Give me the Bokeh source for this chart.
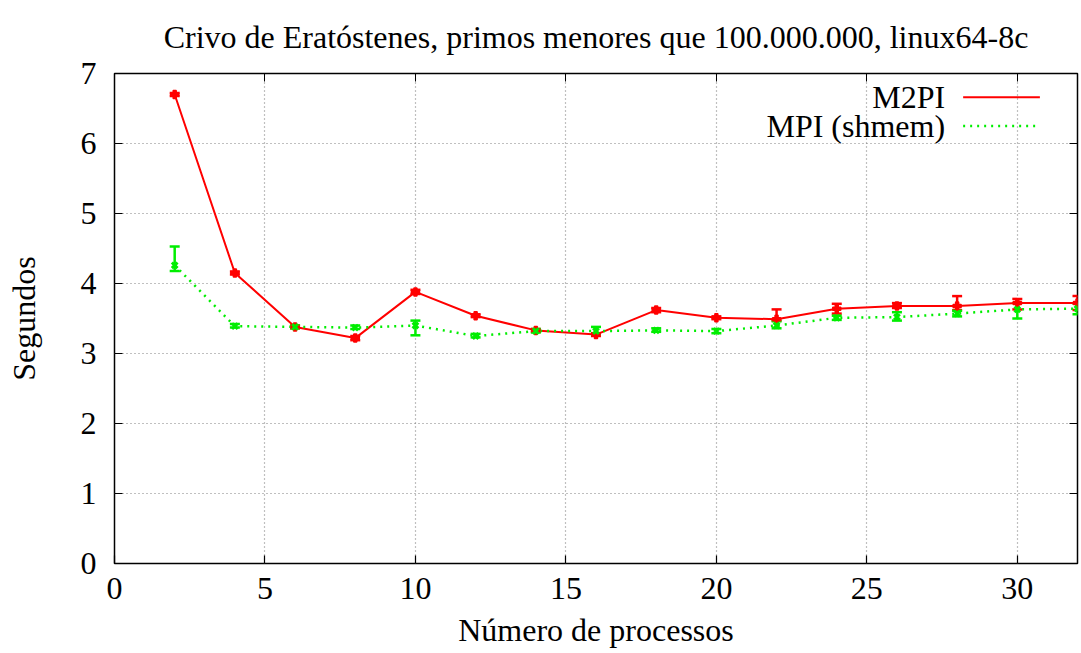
from bokeh.plotting import figure
from bokeh.models import ColumnDataSource, Whisker, TeeHead, LinearAxis, FixedTicker, Label, Arrow, Range1d
from bokeh.embed import file_html
from bokeh.resources import INLINE

# ---- data ----
procs = [2, 4, 6, 8, 10, 12, 14, 16, 18, 20, 22, 24, 26, 28, 30, 32]
m2pi = [6.70, 4.15, 3.38, 3.22, 3.88, 3.54, 3.33, 3.27, 3.62, 3.51, 3.49, 3.64, 3.68, 3.68, 3.72, 3.72]
m2pi_lo = [6.68, 4.13, 3.36, 3.19, 3.85, 3.52, 3.31, 3.25, 3.59, 3.49, 3.47, 3.57, 3.65, 3.62, 3.63, 3.62]
m2pi_hi = [6.72, 4.17, 3.40, 3.25, 3.91, 3.56, 3.35, 3.29, 3.65, 3.53, 3.63, 3.71, 3.72, 3.82, 3.78, 3.82]
mpi = [4.26, 3.39, 3.38, 3.37, 3.40, 3.25, 3.32, 3.32, 3.33, 3.32, 3.40, 3.51, 3.52, 3.57, 3.63, 3.64]
mpi_lo = [4.18, 3.37, 3.36, 3.35, 3.26, 3.23, 3.30, 3.27, 3.31, 3.29, 3.36, 3.48, 3.47, 3.53, 3.50, 3.56]
mpi_hi = [4.53, 3.42, 3.40, 3.40, 3.47, 3.28, 3.35, 3.38, 3.36, 3.35, 3.46, 3.54, 3.59, 3.61, 3.72, 3.71]
x_ticks = [0, 5, 10, 15, 20, 25, 30]
y_ticks = [0, 1, 2, 3, 4, 5, 6, 7]
series_names = ["M2PI", "MPI (shmem)"]

FONT = "Liberation Serif"
FS = "32px"
RED = "#ff0000"
GREEN = "#00ee00"

p = figure(width=1081, height=653, output_backend="svg", toolbar_location=None,
           x_range=Range1d(0, 32), y_range=Range1d(0, 7),
           min_border_left=114, min_border_right=4, min_border_top=73, min_border_bottom=90,
           title="Crivo de Eratóstenes, primos menores que 100.000.000, linux64-8c")
p.title.text_font = FONT
p.title.text_font_size = FS
p.title.text_font_style = "normal"
p.title.text_color = "black"
p.title.align = "center"
p.title.vertical_align = "top"
p.title.standoff = 34

p.outline_line_color = "black"
p.outline_line_width = 1.5
p.outline_line_alpha = 1

for ax in (p.xaxis[0], p.yaxis[0]):
    ax.major_label_text_font = FONT
    ax.major_label_text_font_size = FS
    ax.major_label_text_color = "black"
    ax.axis_label_text_font = FONT
    ax.axis_label_text_font_size = FS
    ax.axis_label_text_font_style = "normal"
    ax.axis_label_text_color = "black"
    ax.major_tick_in = 8
    ax.major_tick_out = 0
    ax.minor_tick_line_color = None
    ax.axis_line_color = None
    ax.major_tick_line_color = "black"
    ax.major_tick_line_width = 1.2

p.xaxis.ticker = FixedTicker(ticks=x_ticks)
p.yaxis.ticker = FixedTicker(ticks=y_ticks)
p.xaxis.axis_label = "Número de processos"
p.yaxis.axis_label = "Segundos"
p.xaxis.major_label_standoff = 14
p.yaxis.major_label_standoff = 18
p.xaxis.axis_label_standoff = 10
p.yaxis.axis_label_standoff = 36

# mirrored ticks (no labels)
top = LinearAxis(ticker=FixedTicker(ticks=x_ticks), major_label_text_color=None,
                 major_tick_in=8, major_tick_out=0, minor_tick_line_color=None, axis_line_color=None,
                 major_label_standoff=0)
right = LinearAxis(ticker=FixedTicker(ticks=y_ticks), major_label_text_color=None,
                   major_tick_in=8, major_tick_out=0, minor_tick_line_color=None, axis_line_color=None,
                   major_label_standoff=0)
p.add_layout(top, "above")
p.add_layout(right, "right")

p.grid.grid_line_color = "#808080"
p.grid.grid_line_dash = "1 3"
p.grid.grid_line_width = 1.2

src_r = ColumnDataSource(dict(x=procs, y=m2pi, lo=m2pi_lo, hi=m2pi_hi))
src_g = ColumnDataSource(dict(x=procs, y=mpi, lo=mpi_lo, hi=mpi_hi))

p.line("x", "y", source=src_r, line_color=RED, line_width=2)
p.line("x", "y", source=src_g, line_color=GREEN, line_width=2.5, line_dash="2 5")

for src, col in ((src_r, RED), (src_g, GREEN)):
    w = Whisker(source=src, base="x", lower="lo", upper="hi", line_color=col, line_width=2.5,
                upper_head=TeeHead(size=10, line_color=col, line_width=2.5),
                lower_head=TeeHead(size=10, line_color=col, line_width=2.5))
    p.add_layout(w)

p.scatter("x", "y", source=src_r, marker="plus", size=8, line_color=RED, fill_color=RED, line_width=1.5)
p.scatter("x", "y", source=src_g, marker="x", size=8, line_color=GREEN, line_width=3)

# key (top-right, gnuplot style: text right, sample line after)
key_text_x = 27.6
key_line_x0, key_line_x1 = 28.2, 30.75
key_rows = [6.66, 6.25]
for name, yk in zip(series_names, key_rows):
    p.add_layout(Label(x=key_text_x, y=yk, text=name, text_font=FONT, text_color="black",
                       text_font_size=FS, text_align="right", text_baseline="middle"))
p.add_layout(Arrow(x_start=key_line_x0, y_start=key_rows[0], x_end=key_line_x1, y_end=key_rows[0],
                   end=None, line_color=RED, line_width=2))
p.add_layout(Arrow(x_start=key_line_x0, y_start=key_rows[1], x_end=key_line_x1, y_end=key_rows[1],
                   end=None, line_color=GREEN, line_width=2.5, line_dash="2 5"))

open("out.html", "w").write(file_html(p, INLINE))
